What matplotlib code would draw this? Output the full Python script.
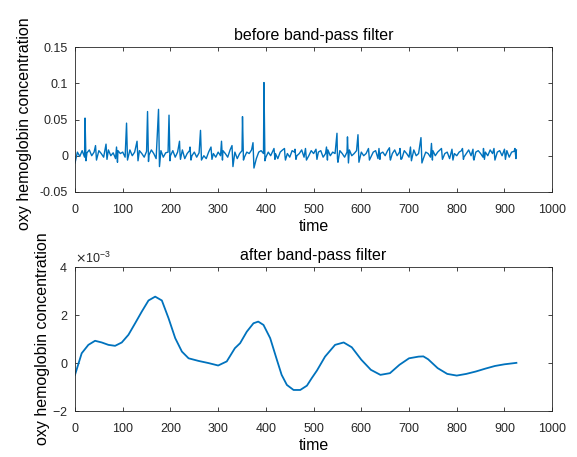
import numpy as np
import matplotlib
matplotlib.use('Agg')
import matplotlib.pyplot as plt
from matplotlib.ticker import FuncFormatter

plt.rcParams['font.family'] = ['Liberation Sans', 'DejaVu Sans']
plt.rcParams['axes.unicode_minus'] = False

# raw signal background, read every 5 time units (values in 1e-3)
baseStep = 5
baseVals = [-10, 5, -1, 7, -2, 4, 8, 0, 5, -4, 7, 3, -2, 5, 8, 0, 4, -4, 7, 3,
            5, -2, 4, 8, 0, 5, -4, 7, 3, -2, 6, 1, 8, 3, -4, 5, 7, -2, 4, 5,
            0, 7, -2, 5, 3, 8, -4, 3, 7, 0, 5, -2, 4, 8, 0, -4, 5, 7, 3, -2,
            5, 0, 7, 3, -2, 8, 0, 5, -4, 3, 7, -2, 5, 3, 8, 0, -4, 5, 7, 3,
            -2, 5, 0, 7, 3, -4, 5, 8, 0, 3, -2, 7, 5, 0, 3, 8, -2, 5, 0, 7,
            3, -4, 5, 7, -2, 3, 8, 0, 5, 3, -4, 7, 3, -2, 5, 8, 0, 3, 7, -2,
            5, 0, 3, 8, -2, 5, 7, -4, 3, 5, 0, 7, -2, 3, 8, 0, 5, -4, 7, 3,
            -2, 5, 8, 0, 3, 7, -4, 5, 3, -2, 7, 0, 5, 8, -2, 3, 5, -4, 7, 3,
            0, 5, 7, -2, 3, 8, 0, -4, 5, 7, 3, -2, 5, 0, 8, 3, -4, 5, 7, 0,
            3, 7, -2, 5, 6, 8]

# heart beats: peak time, peak value and the dip right after
beatTimes = [21, 43, 65, 87, 108, 130, 152, 175, 197, 219, 241, 263, 285, 307, 329, 351, 373, 396,
             417, 439, 461, 483, 505, 527, 549, 571, 593, 615, 637, 659, 681, 703, 725, 747,
             768, 790, 812, 834, 856, 878, 900, 922]
beatPeaks = [0.052, 0.014, 0.016, 0.012, 0.045, 0.02, 0.061, 0.064, 0.056, 0.02, 0.012, 0.035, 0.012, 0.02,
             0.014, 0.054, 0.018, 0.101, 0.01, 0.01, 0.009, 0.01, 0.009, 0.012, 0.031, 0.026, 0.029, 0.01,
             0.01, 0.011, 0.01, 0.012, 0.025, 0.017, 0.01, 0.009, 0.01, 0.009, 0.01, 0.01, 0.009, 0.01]
beatDips = [-0.007, -0.006, -0.005, -0.009, -0.006, -0.007, -0.008, -0.015, -0.007, -0.005, -0.006, -0.006, -0.005, -0.006,
            -0.015, -0.006, -0.017, -0.007, -0.005, -0.006, -0.005, -0.006, -0.005, -0.006, -0.009, -0.01, -0.009, -0.006,
            -0.005, -0.006, -0.005, -0.007, -0.01, -0.006, -0.005, -0.006, -0.005, -0.006, -0.005, -0.006, -0.005, -0.004]

# filtered signal (values in 1e-3)
filtTimes = [0, 14, 28, 42, 56, 70, 84, 98, 112, 126, 140, 154, 168, 182, 196, 210, 224, 238, 259, 280, 300,
             318, 335, 346, 360, 374, 384, 395, 409, 423, 433, 444, 458, 472, 486, 496, 507, 524, 545, 563,
             580, 600, 620, 640, 660, 680, 700, 720, 730, 740, 760, 780, 800, 820, 840, 860, 880, 900, 925]
filtVals = [-0.5, 0.4, 0.75, 0.92, 0.85, 0.75, 0.71, 0.85, 1.17, 1.65, 2.14, 2.6, 2.76, 2.6, 1.86, 1.03, 0.47, 0.19, 0.08, -0.01, -0.11,
            0.06, 0.61, 0.82, 1.3, 1.65, 1.72, 1.58, 1.03, 0.13, -0.5, -0.92, -1.13, -1.13, -0.95, -0.64, -0.32, 0.26, 0.75, 0.85,
            0.65, 0.13, -0.29, -0.5, -0.43, -0.08, 0.19, 0.26, 0.27, 0.15, -0.22, -0.46, -0.53, -0.46, -0.36, -0.24, -0.13, -0.06, 0.0]

raw = {i * baseStep: v * 1e-3 for i, v in enumerate(baseVals)}
for t, p, d in zip(beatTimes, beatPeaks, beatDips):
    raw[t] = p
    raw[t + 2] = d
rawT = sorted(raw)
rawV = [raw[t] for t in rawT]

lineColor = '#0072BD'
axColor = '#262626'
labelSize = 11.5

fig = plt.figure(figsize=(5.77, 4.57), dpi=100)
ax1 = fig.add_axes([0.130, 0.580, 0.827, 0.317])
ax2 = fig.add_axes([0.130, 0.101, 0.827, 0.315])

ax1.plot(rawT, rawV, color=lineColor, linewidth=1.0)
ax1.set_ylim(-0.05, 0.15)
ax1.set_yticks([-0.05, 0, 0.05, 0.1, 0.15])
ax1.yaxis.set_major_formatter(FuncFormatter(lambda v, p: '%g' % round(v, 3)))
ax1.set_title('before band-pass filter', fontsize=labelSize, color='black', pad=5)

ax2.plot(filtTimes, np.array(filtVals) * 1e-3, color=lineColor, linewidth=1.3)
ax2.set_ylim(-2e-3, 4e-3)
ax2.set_yticks([-2e-3, 0, 2e-3, 4e-3])
ax2.ticklabel_format(axis='y', style='sci', scilimits=(0, 0), useMathText=True)
ax2.yaxis.get_offset_text().set_fontsize(9)
ax2.yaxis.get_offset_text().set_color(axColor)
ax2.set_title('after band-pass filter', fontsize=labelSize, color='black', pad=5)

for ax in [ax1, ax2]:
    ax.set_xlim(0, 1000)
    ax.set_xticks(range(0, 1001, 100))
    ax.set_xlabel('time', fontsize=labelSize, color='black', labelpad=2)
    ax.set_ylabel('oxy hemoglobin concentration', fontsize=labelSize, color='black')
    ax.tick_params(direction='in', top=True, right=True, labelsize=9, colors=axColor, length=3, width=0.6)
    ax.tick_params(axis='x', pad=9)
    ax.tick_params(axis='y', pad=5)
    for s in ax.spines.values():
        s.set_color(axColor)
        s.set_linewidth(0.6)

ax1.yaxis.set_label_coords(-0.090, 0.47)
ax2.yaxis.set_label_coords(-0.052, 0.5)

fig.savefig('out.png', dpi=100)
